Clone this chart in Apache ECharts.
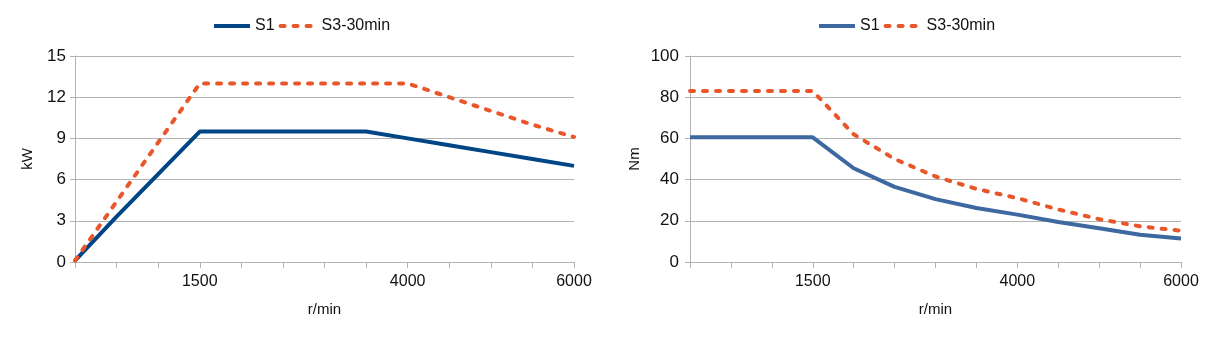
<!DOCTYPE html>
<html>
<head>
<meta charset="utf-8">
<script src="https://cdn.jsdelivr.net/npm/echarts@6/dist/echarts.min.js"></script>
<style>
html,body{margin:0;padding:0;background:#fff;}
#main{width:1207px;height:339px;}
</style>
</head>
<body>
<div id="main"></div>
<script>
// Data
const categories = ['0','500','1000','1500','2000','2500','3000','3500','4000','4500','5000','5500','6000'];
const xTickLabels = ['1500','4000','6000'];
const powerTicks = [0, 3, 6, 9, 12, 15];
const torqueTicks = [0, 20, 40, 60, 80, 100];
const powerS1 = [0.1, 3.3, 6.4, 9.5, 9.5, 9.5, 9.5, 9.5, 9.0, 8.5, 8.0, 7.5, 7.0];
const powerS3 = [0.1, 4.4, 8.7, 13, 13, 13, 13, 13, 13, 12, 11, 10, 9.1];
const torqueS1 = [60.5, 60.5, 60.5, 60.5, 45.5, 36.5, 30.5, 26.2, 23, 19.4, 16.4, 13.2, 11.4];
const torqueS3 = [83, 83, 83, 83, 62, 50, 41.5, 35.5, 31, 25.5, 20.8, 17.3, 15.2];

const FONT = 'Liberation Sans';
const gridColor = '#b3b3b3';
const navy = '#004586';
const blue = '#3d68a0';
const orange = '#e8562a';

function xAxis(gridIndex) {
  return {
    type: 'category', gridIndex, data: categories, boundaryGap: false,
    name: 'r/min', nameLocation: 'middle', nameGap: 40,
    nameTextStyle: {fontFamily: FONT, fontSize: 15, color: '#111'},
    axisLine: {lineStyle: {color: gridColor, width: 1}},
    axisTick: {show: true, alignWithLabel: true, interval: 0, length: 6, lineStyle: {color: gridColor}},
    axisLabel: {
      interval: (i, v) => xTickLabels.includes(v),
      fontFamily: FONT, fontSize: 16, color: '#111', margin: 12
    },
    splitLine: {show: false}
  };
}
function yAxis(gridIndex, ticks, name, nameGap, margin) {
  return {
    type: 'value', gridIndex, min: ticks[0], max: ticks[ticks.length - 1],
    interval: ticks[1] - ticks[0],
    name, nameLocation: 'middle', nameGap, nameRotate: 90,
    nameTextStyle: {fontFamily: FONT, fontSize: 15, color: '#111'},
    axisLine: {show: true, lineStyle: {color: gridColor}},
    axisTick: {show: true, length: 5, lineStyle: {color: gridColor}},
    axisLabel: {fontFamily: FONT, fontSize: 17, color: '#111', margin},
    splitLine: {show: true, lineStyle: {color: gridColor, width: 1}}
  };
}
function legend(left, c1) {
  return {
    left, top: 18, padding: 0, itemWidth: 36, itemHeight: 14, itemGap: 4,
    textStyle: {fontFamily: FONT, fontSize: 16, color: '#111'},
    itemStyle: {opacity: 0, borderWidth: 0},
    data: [
      {name: 'S1', itemStyle: {opacity: 0}, lineStyle: {color: c1, width: 4, type: 'solid'}},
      {name: 'S3-30min', itemStyle: {opacity: 0}, lineStyle: {color: orange, width: 4, type: [4, 9], cap: 'round'}}
    ]
  };
}
function line(name, data, idx, color, dashed) {
  return {
    name, type: 'line', xAxisIndex: idx, yAxisIndex: idx, data,
    symbol: 'none', smooth: false, animation: false,
    lineStyle: dashed ? {color, width: 4, type: [4, 9], cap: 'round'} : {color, width: 4},
    itemStyle: {color}
  };
}

const chart = echarts.init(document.getElementById('main'), null, {renderer: 'canvas'});
chart.setOption({
  animation: false,
  backgroundColor: '#fff',
  grid: [
    {left: 75, top: 56, width: 499, height: 206},
    {left: 690, top: 56, width: 491, height: 206}
  ],
  legend: [legend(212, navy), legend(817, blue)],
  xAxis: [xAxis(0), xAxis(1)],
  yAxis: [yAxis(0, powerTicks, 'kW', 40, 9), yAxis(1, torqueTicks, 'Nm', 48, 11)],
  series: [
    line('S1', powerS1, 0, navy, false),
    line('S3-30min', powerS3, 0, orange, true),
    line('S1', torqueS1, 1, blue, false),
    line('S3-30min', torqueS3, 1, orange, true)
  ]
});
</script>
</body>
</html>
